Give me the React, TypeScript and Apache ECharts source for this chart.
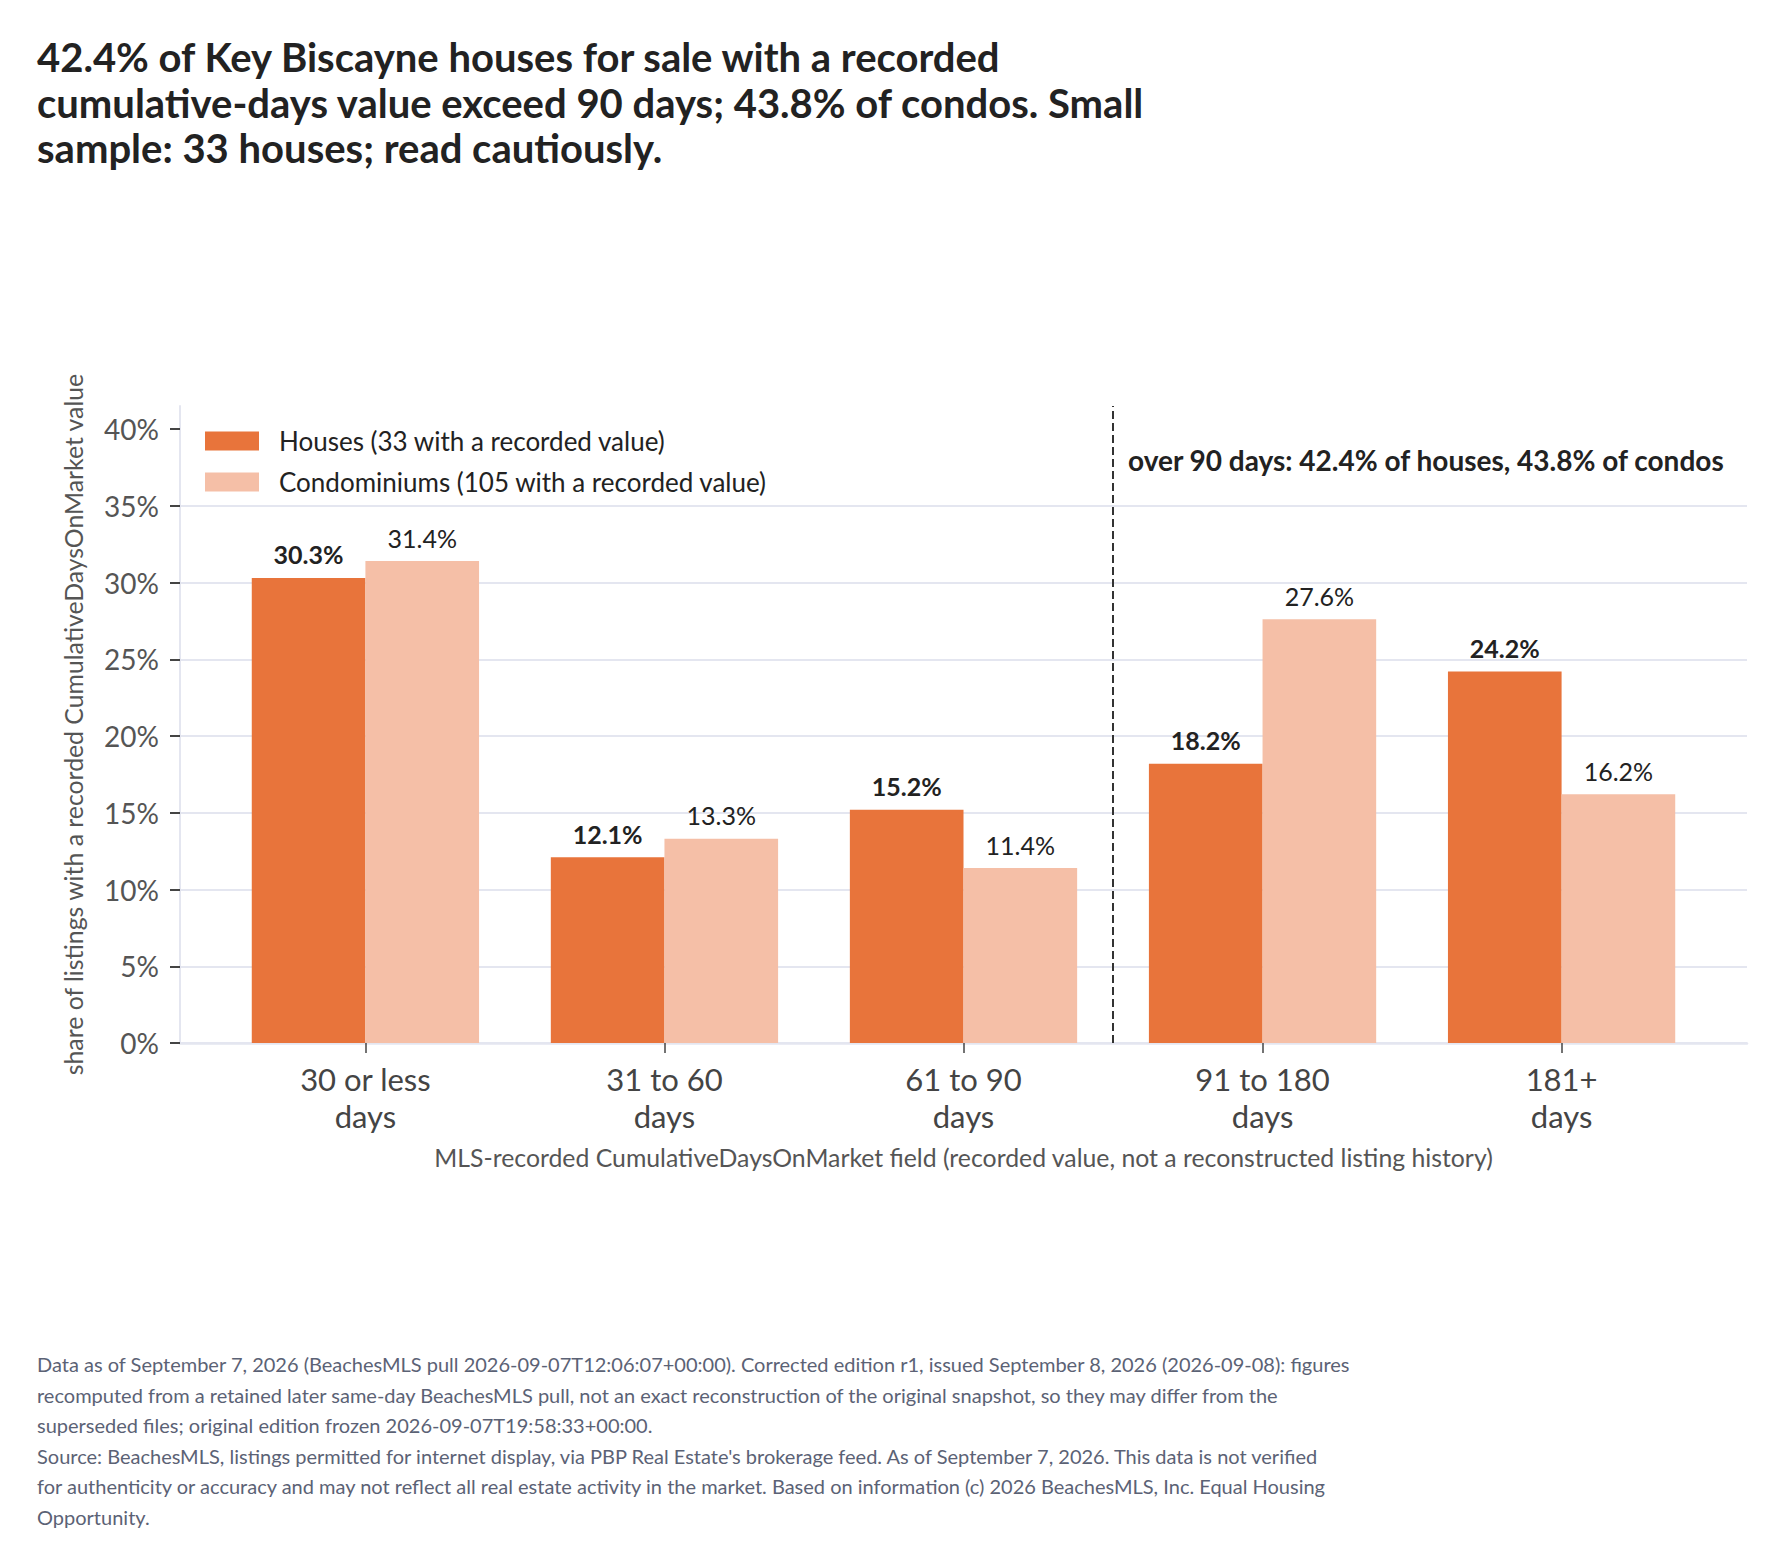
import React, { useEffect, useRef } from "react";
import * as echarts from "echarts";

const titleLines = [
  "42.4% of Key Biscayne houses for sale with a recorded",
  "cumulative-days value exceed 90 days; 43.8% of condos. Small",
  "sample: 33 houses; read cautiously.",
];

const categories = [
  "30 or less\ndays",
  "31 to 60\ndays",
  "61 to 90\ndays",
  "91 to 180\ndays",
  "181+\ndays",
];

const housesValues = [30.3, 12.1, 15.2, 18.2, 24.2];
const condoValues = [31.4, 13.3, 11.4, 27.6, 16.2];

const housesName = "Houses (33 with a recorded value)";
const condoName = "Condominiums (105 with a recorded value)";

const yTicks = [0, 5, 10, 15, 20, 25, 30, 35, 40];
const dividerAt = 2.5;
const dividerLabel = "over 90 days: 42.4% of houses, 43.8% of condos";

const yAxisTitle = "share of listings with a recorded CumulativeDaysOnMarket value";
const xAxisTitle =
  "MLS-recorded CumulativeDaysOnMarket field (recorded value, not a reconstructed listing history)";

const footerLines = [
  "Data as of September 7, 2026 (BeachesMLS pull 2026-09-07T12:06:07+00:00). Corrected edition r1, issued September 8, 2026 (2026-09-08): figures",
  "recomputed from a retained later same-day BeachesMLS pull, not an exact reconstruction of the original snapshot, so they may differ from the",
  "superseded files; original edition frozen 2026-09-07T19:58:33+00:00.",
  "Source: BeachesMLS, listings permitted for internet display, via PBP Real Estate's brokerage feed. As of September 7, 2026. This data is not verified",
  "for authenticity or accuracy and may not reflect all real estate activity in the market. Based on information (c) 2026 BeachesMLS, Inc. Equal Housing",
  "Opportunity.",
];

const FONT = "Lato, 'Noto Sans', sans-serif";
const HOUSE_COLOR = "#E8743B";
const CONDO_COLOR = "#F5BFA7";
const GRID_COLOR = "#E4E6F0";

export default function App() {
  const ref = useRef<HTMLDivElement>(null);

  useEffect(() => {
    document.body.style.margin = "0";
    if (!ref.current) return;
    const chart = echarts.init(ref.current, undefined, { renderer: "svg" });

    const graphic: any[] = [];
    titleLines.forEach((t, i) => {
      graphic.push({
        type: "text",
        left: 37,
        top: 37 + i * 45.7,
        style: {
          text: t,
          font: `bold 40px ${FONT}`,
          fill: "#222222",
        },
      });
    });
    footerLines.forEach((t, i) => {
      graphic.push({
        type: "text",
        left: 37,
        top: 1354 + i * 30.5,
        style: {
          text: t,
          font: `20px ${FONT}`,
          fill: "#5B6275",
        },
      });
    });
    graphic.push({
      type: "text",
      left: 1128,
      top: 446,
      style: {
        text: dividerLabel,
        font: `bold 28px ${FONT}`,
        fill: "#222222",
      },
    });

    const labelFmt = (p: any) => p.value[1].toFixed(1) + "%";

    chart.setOption({
      animation: false,
      textStyle: { fontFamily: FONT },
      grid: { left: 180, right: 35, top: 406, bottom: 523 },
      legend: {
        left: 205,
        top: 428,
        orient: "vertical",
        padding: 0,
        itemWidth: 54,
        itemHeight: 19,
        itemGap: 15,
        icon: "rect",
        textStyle: {
          fontFamily: FONT,
          fontSize: 26,
          color: "#222222",
          padding: [0, 0, 0, 15],
        },
        data: [housesName, condoName],
      },
      xAxis: {
        type: "value",
        min: -0.62,
        max: 4.62,
        name: xAxisTitle,
        nameLocation: "middle",
        nameGap: 102,
        nameTextStyle: { fontFamily: FONT, fontSize: 24.8, color: "#555555" },
        splitLine: { show: false },
        axisLine: {
          show: true,
          onZero: false,
          lineStyle: { color: GRID_COLOR, width: 2.5 },
        },
        axisTick: {
          show: true,
          length: 10,
          customValues: categories.map((_, i) => i),
          lineStyle: { color: "#444444", width: 1.5 },
        },
        axisLabel: {
          customValues: categories.map((_, i) => i),
          formatter: (v: number) => categories[Math.round(v)] ?? "",
          fontFamily: FONT,
          fontSize: 31,
          lineHeight: 37.5,
          color: "#444444",
          margin: 17,
        },
      },
      yAxis: {
        type: "value",
        min: 0,
        max: 41.5,
        interval: 5,
        name: yAxisTitle,
        nameLocation: "middle",
        nameGap: 94,
        nameTextStyle: { fontFamily: FONT, fontSize: 24.8, color: "#555555" },
        axisLine: {
          show: true,
          onZero: false,
          lineStyle: { color: GRID_COLOR, width: 2 },
        },
        axisTick: {
          show: true,
          length: 10,
          customValues: yTicks,
          lineStyle: { color: "#444444", width: 2 },
        },
        axisLabel: {
          customValues: yTicks,
          formatter: "{value}%",
          fontFamily: FONT,
          fontSize: 28,
          color: "#555555",
          margin: 21,
        },
        splitLine: {
          show: true,
          showMaxLine: false,
          lineStyle: { color: GRID_COLOR, width: 2 },
        },
      },
      series: [
        {
          name: housesName,
          type: "bar",
          data: housesValues.map((v, i) => [i, v]),
          barWidth: "38%",
          barGap: "0%",
          itemStyle: { color: HOUSE_COLOR },
          label: {
            show: true,
            position: "top",
            distance: 11,
            formatter: labelFmt,
            fontFamily: FONT,
            fontSize: 25,
            fontWeight: "bold",
            color: "#222222",
          },
        },
        {
          name: condoName,
          type: "bar",
          data: condoValues.map((v, i) => [i, v]),
          barWidth: "38%",
          barGap: "0%",
          itemStyle: { color: CONDO_COLOR },
          label: {
            show: true,
            position: "top",
            distance: 11,
            formatter: labelFmt,
            fontFamily: FONT,
            fontSize: 25,
            color: "#222222",
          },
        },
        {
          name: "divider",
          type: "line",
          data: [],
          silent: true,
          markLine: {
            silent: true,
            symbol: ["none", "none"],
            label: { show: false },
            lineStyle: { color: "#333333", width: 2, type: [8, 4] },
            data: [{ xAxis: dividerAt }],
          },
        },
      ],
      graphic,
    });

    return () => chart.dispose();
  }, []);

  return <div ref={ref} style={{ width: 1782, height: 1566 }} />;
}
